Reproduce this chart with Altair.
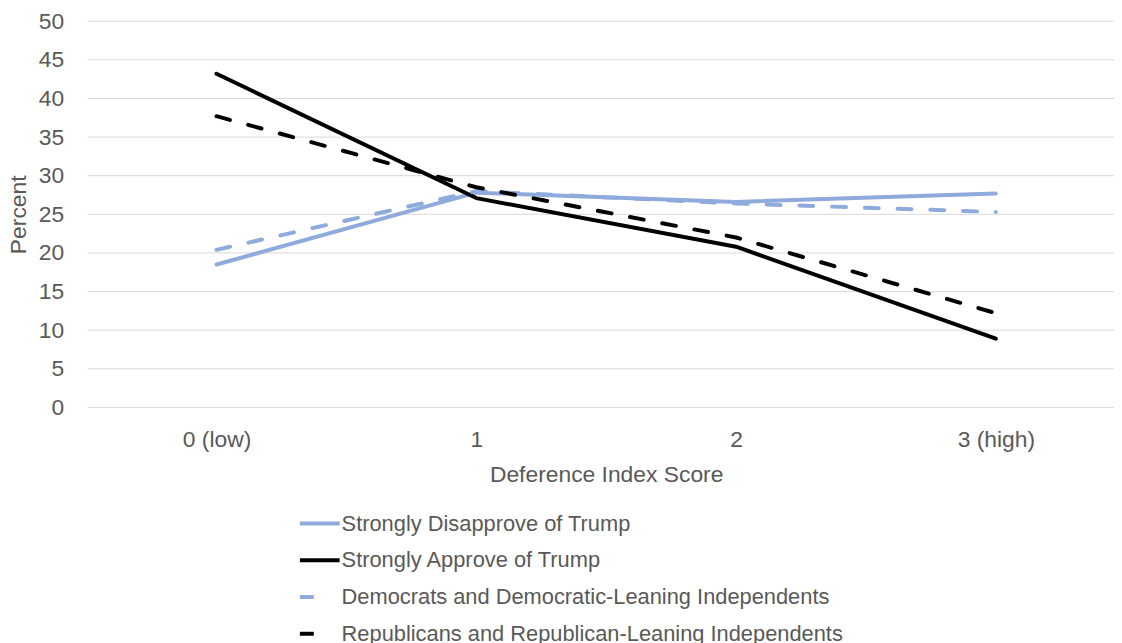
import altair as alt
import pandas as pd

categories = ["0 (low)", "1", "2", "3 (high)"]
series = [
    "Strongly Disapprove of Trump",
    "Strongly Approve of Trump",
    "Democrats and Democratic-Leaning Independents",
    "Republicans and Republican-Leaning Independents",
]
disapprove = [18.5, 27.8, 26.6, 27.7]
approve = [43.2, 27.1, 20.8, 8.9]
democrats = [20.4, 28.0, 26.4, 25.3]
republicans = [37.7, 28.5, 22.0, 12.2]
colors = ["#8FAADC", "#000000", "#8FAADC", "#000000"]
y_ticks = [0, 5, 10, 15, 20, 25, 30, 35, 40, 45, 50]

rows = []
for s, vals in zip(series, [disapprove, approve, democrats, republicans]):
    for c, v in zip(categories, vals):
        rows.append({"Score": c, "Percent": v, "Series": s})
df = pd.DataFrame(rows)
grid_df = pd.DataFrame({"Percent": y_ticks})

FONT = "Liberation Sans"
TXT = "#595959"
W, H = 1034, 389
FS = 23
LFS = 22


def make_legend(y, dash=None):
    kw = dict(
        title=None,
        orient="none",
        legendX=212,
        legendY=y,
        symbolType="stroke",
        symbolSize=1600,
        symbolStrokeWidth=4,
        labelFontSize=LFS,
        labelFont=FONT,
        labelColor=TXT,
        labelOffset=0,
        rowPadding=4,
        labelLimit=800,
    )
    if dash is not None:
        kw["symbolDash"] = dash
    return alt.Legend(**kw)


y_scale = alt.Scale(domain=[0, 50], nice=False)
x_enc = alt.X(
    "Score:N",
    sort=categories,
    scale=alt.Scale(type="point", domain=categories, range=[130, 915], padding=0),
    axis=alt.Axis(
        title="Deference Index Score",
        labelAngle=0,
        grid=False,
        domain=False,
        ticks=False,
        labelFont=FONT,
        labelFontSize=FS,
        labelColor=TXT,
        labelPadding=21,
        titleFont=FONT,
        titleFontSize=FS,
        titleFontWeight="normal",
        titleColor=TXT,
        titlePadding=13,
    ),
)
y_axis = alt.Axis(
    title="Percent",
    values=y_ticks,
    tickCount=11,
    labelOverlap=False,
    grid=False,
    domain=False,
    ticks=False,
    labelFont=FONT,
    labelFontSize=FS,
    labelColor=TXT,
    labelPadding=24,
    titleFont=FONT,
    titleFontSize=FS,
    titleFontWeight="normal",
    titleColor=TXT,
    titlePadding=8,
)
y_enc = alt.Y("Percent:Q", scale=y_scale, axis=y_axis)

grid = (
    alt.Chart(grid_df)
    .mark_rule(color="#D9D9D9", strokeWidth=1)
    .encode(
        y=y_enc,
        x=alt.value(0),
        x2=alt.value(W),
    )
)

solid = (
    alt.Chart(df)
    .transform_filter(alt.FieldOneOfPredicate(field="Series", oneOf=series[:2]))
    .mark_line(strokeWidth=4, strokeCap="round", strokeJoin="round")
    .encode(
        x=x_enc,
        y=y_enc,
        color=alt.Color(
            "Series:N",
            sort=series[:2],
            scale=alt.Scale(domain=series[:2], range=colors[:2]),
            legend=make_legend(484),
        ),
    )
)

dashed = (
    alt.Chart(df)
    .transform_filter(alt.FieldOneOfPredicate(field="Series", oneOf=series[2:]))
    .mark_line(strokeWidth=4, strokeCap="round", strokeJoin="round", strokeDash=[14, 19])
    .encode(
        x=x_enc,
        y=y_enc,
        stroke=alt.Stroke(
            "Series:N",
            sort=series[2:],
            scale=alt.Scale(domain=series[2:], range=colors[2:]),
            legend=make_legend(558, dash=[14, 100]),
        ),
    )
)

chart = (
    alt.layer(grid, solid, dashed)
    .properties(
        width=W,
        height=H,
        autosize=alt.AutoSizeParams(type="none"),
        padding={"left": 80, "top": 11, "right": 0, "bottom": 235},
    )
    .configure_view(stroke=None)
)

chart.save("out.html", embed_options={"renderer": "svg", "actions": False})
